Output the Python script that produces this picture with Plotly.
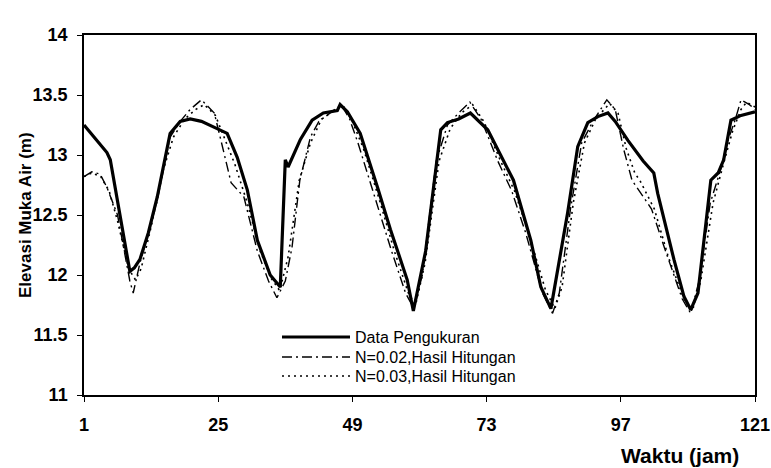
import plotly.graph_objects as go

# ---- data ----
t_obs = [1, 5.1, 5.7, 7, 9.2, 10, 11, 12.5, 14.1, 16.4, 18.2, 20, 22, 24.8, 26.6, 28.4, 30.2, 32,
         34.3, 36.1, 37, 37.5, 39.7, 41.8, 43.8, 46.3, 46.8, 48.1, 50.4, 53.5, 55.8, 58.8, 59.9,
         62.1, 64.8, 66, 68, 70.1, 73.2, 75.5, 77.8, 80.9, 82.7, 84.5, 85, 87.5, 89.3, 91.1, 92.9,
         94.7, 96, 98.3, 101, 102.9, 103.6, 106.5, 108.3, 109.5, 110.8, 113.1, 114.4, 115.4,
         116.7, 118.5, 121]
h_obs = [13.25, 13.02, 12.96, 12.62, 12.03, 12.06, 12.13, 12.35, 12.65, 13.18, 13.28, 13.30, 13.28,
         13.22, 13.18, 12.98, 12.71, 12.29, 12.00, 11.90, 12.96, 12.90, 13.13, 13.29, 13.35, 13.37,
         13.42, 13.36, 13.18, 12.73, 12.38, 11.96, 11.70, 12.20, 13.21, 13.27, 13.30, 13.35, 13.21,
         13.00, 12.79, 12.29, 11.90, 11.72, 11.85, 12.52, 13.07, 13.27, 13.32, 13.35, 13.28, 13.12,
         12.95, 12.85, 12.68, 12.13, 11.82, 11.71, 11.85, 12.79, 12.85, 12.96, 13.29, 13.33, 13.36]

t_n002 = [1, 2.4, 3.9, 5.1, 7, 9.2, 9.8, 11, 14, 16.4, 18.2, 20, 22, 24.3, 25.5, 27.3, 29.6, 32,
          34, 35.5, 37, 38.2, 39.6, 41.5, 43, 45, 47, 48.5, 50, 53, 56, 58.5, 60, 61.5, 64, 66,
          68, 70, 72, 75, 77.5, 80, 83, 84.8, 86, 88, 90, 92, 94.5, 96, 97.5, 99, 100, 102.5,
          105, 108, 109.5, 111, 113, 115, 116, 117.5, 118.5, 120, 121]
h_n002 = [12.82, 12.86, 12.84, 12.73, 12.50, 11.95, 11.85, 12.10, 12.60, 13.15, 13.28, 13.38, 13.46,
          13.35, 13.12, 12.77, 12.65, 12.20, 11.95, 11.81, 11.95, 12.23, 12.79, 13.15, 13.28, 13.35,
          13.42, 13.30, 13.10, 12.65, 12.20, 11.85, 11.72, 12.00, 12.95, 13.25, 13.35, 13.44, 13.30,
          12.95, 12.70, 12.35, 11.85, 11.68, 11.85, 12.55, 13.10, 13.28, 13.46, 13.38, 13.05, 12.79,
          12.72, 12.55, 12.20, 11.80, 11.68, 11.95, 12.60, 12.90, 13.10, 13.30, 13.46, 13.42, 13.38]

t_n003 = [1, 2.4, 4, 5.5, 7, 9, 10.2, 11.2, 13, 15, 17, 19, 21, 22.5, 24.5, 26, 28, 30.2, 32.5,
          34.5, 36, 37.5, 39.5, 41.5, 43.5, 45.5, 47.5, 49, 51, 54, 56.5, 59, 60.3, 62, 64.5,
          66.5, 68.5, 70.5, 72.5, 75.5, 78, 80.5, 83.5, 85.2, 86.5, 88.5, 90.5, 92.5, 95, 96.5,
          98, 99.5, 100.5, 103, 105.5, 108.3, 109.8, 111.3, 113.5, 115.5, 117, 118.5, 119.5, 121]
h_n003 = [12.82, 12.85, 12.82, 12.70, 12.45, 12.05, 11.96, 12.05, 12.40, 12.85, 13.15, 13.30, 13.38,
          13.42, 13.33, 13.15, 12.92, 12.60, 12.20, 11.97, 11.87, 12.15, 12.79, 13.10, 13.30, 13.36,
          13.40, 13.28, 13.05, 12.60, 12.20, 11.85, 11.75, 12.10, 12.95, 13.22, 13.35, 13.42, 13.28,
          12.95, 12.70, 12.35, 11.88, 11.72, 11.90, 12.60, 13.10, 13.30, 13.43, 13.35, 13.05, 12.85,
          12.78, 12.55, 12.15, 11.80, 11.70, 11.95, 12.60, 12.95, 13.20, 13.38, 13.44, 13.40]

names = ["Data Pengukuran", "N=0.02,Hasil Hitungan", "N=0.03,Hasil Hitungan"]
x_ticks = [1, 25, 49, 73, 97, 121]
y_ticks = [11, 11.5, 12, 12.5, 13, 13.5, 14]

FONT = "Liberation Sans, Arial, sans-serif"
DASHDOT = "10px,4px,2px,4px"
DOT = "2px,4px"

fig = go.Figure()
fig.add_trace(go.Scatter(x=t_n003, y=h_n003, mode="lines", name=names[2],
                         line=dict(color="black", width=1.6, dash=DOT), showlegend=False))
fig.add_trace(go.Scatter(x=t_n002, y=h_n002, mode="lines", name=names[1],
                         line=dict(color="black", width=1.4, dash=DASHDOT), showlegend=False))
fig.add_trace(go.Scatter(x=t_obs, y=h_obs, mode="lines", name=names[0],
                         line=dict(color="black", width=3.2), showlegend=False))

W, H = 771, 468
L, R, T, B = 84, 16, 35, 73
pw, ph = W - L - R, H - T - B

def px2paper(x, y):
    return (x - L) / pw, 1 - (y - T) / ph

# manual legend (line samples + labels)
leg_rows = [337, 357, 376]
styles = [dict(color="black", width=3.2), dict(color="black", width=1.4, dash=DASHDOT),
          dict(color="black", width=1.6, dash=DOT)]
for name, yy, st in zip(names, leg_rows, styles):
    x0, y0 = px2paper(282, yy)
    x1, _ = px2paper(350, yy)
    fig.add_shape(type="line", xref="paper", yref="paper", x0=x0, x1=x1, y0=y0, y1=y0, line=st)
    xt, _ = px2paper(353, yy)
    fig.add_annotation(xref="paper", yref="paper", x=xt, y=y0, text=name, showarrow=False,
                       xanchor="left", yanchor="middle", font=dict(family=FONT, size=16, color="black"))

# axis titles
xa, ya = px2paper(680, 455)
fig.add_annotation(xref="paper", yref="paper", x=xa, y=ya, text="<b>Waktu (jam)</b>", showarrow=False,
                   xanchor="center", yanchor="middle", font=dict(family=FONT, size=21, color="black"))
xa, ya = px2paper(25, 215)
fig.add_annotation(xref="paper", yref="paper", x=xa, y=ya, text="<b>Elevasi Muka Air (m)</b>",
                   showarrow=False, textangle=-90, xanchor="center", yanchor="middle",
                   font=dict(family=FONT, size=17, color="black"))

axis_common = dict(showgrid=False, zeroline=False, showline=True, linecolor="black", linewidth=1.5,
                   mirror=True, ticks="outside", ticklen=5, tickcolor="black",
                   tickfont=dict(family=FONT, size=18, color="black", weight="bold"))
fig.update_xaxes(range=[1, 121], tickvals=x_ticks, ticktext=[str(v) for v in x_ticks],
                 ticklabelstandoff=8, **axis_common)
fig.update_yaxes(range=[11, 14], tickvals=y_ticks, ticktext=[f"{v:g}" for v in y_ticks],
                 ticklabelstandoff=6, **axis_common)

fig.update_layout(width=W, height=H, margin=dict(l=L, r=R, t=T, b=B, autoexpand=False),
                  paper_bgcolor="white", plot_bgcolor="white", showlegend=False,
                  font=dict(family=FONT, color="black"))

fig.write_html("out.html")
